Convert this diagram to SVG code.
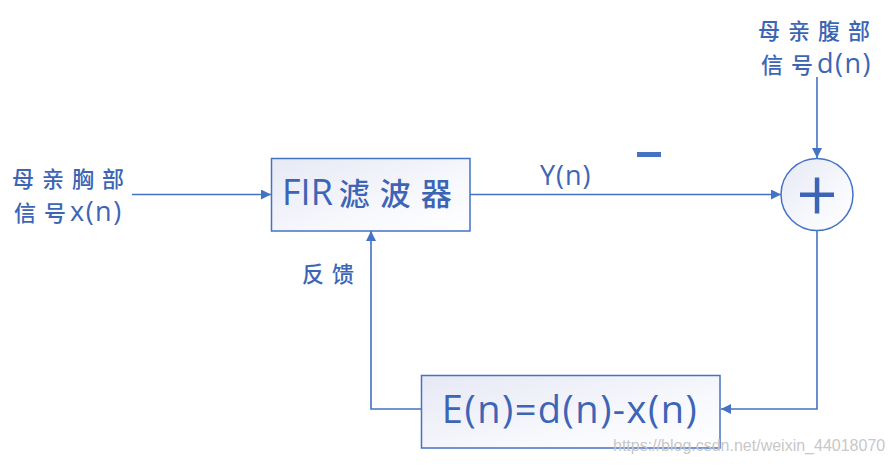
<svg xmlns="http://www.w3.org/2000/svg" width="894" height="465" viewBox="0 0 894 465">
  <style>
    .line { fill: none; stroke: #4472C4; stroke-width: 1.6; }
    .box { stroke: #4472C4; stroke-width: 1.5; fill: url(#boxFill); }
    .lbl { fill: #3D65B5; font-family: "Noto Sans CJK SC", "Noto Sans", sans-serif; font-size: 22px; font-weight: 500; letter-spacing: 8px; }
    .latin { font-family: "Open Sans", "Noto Sans", sans-serif; font-weight: 400; letter-spacing: 1.5px; }
    .big { fill: #3D65B5; font-family: "Open Sans", "Noto Sans CJK SC", sans-serif; }
    .mark { fill: #C8C8C8; font-family: "Liberation Sans", Arial, sans-serif; font-size: 16px; }
  </style>
  <defs>
    <linearGradient id="boxFill" x1="0" y1="0" x2="1" y2="1">
      <stop offset="0" stop-color="#E6E8F5"/>
      <stop offset="0.6" stop-color="#F7F8FC"/>
      <stop offset="1" stop-color="#FFFFFF"/>
    </linearGradient>
    <marker id="arrow" viewBox="0 0 10 10" refX="10" refY="5" markerWidth="10" markerHeight="10" markerUnits="userSpaceOnUse" orient="auto">
      <path d="M0,0 L10,5 L0,10 Z" fill="#4472C4"/>
    </marker>
  </defs>
  <rect width="894" height="465" fill="#FFFFFF"/>

  <g id="connectors">
    <line class="line" x1="132" y1="194.5" x2="271" y2="194.5" marker-end="url(#arrow)"/>
    <line class="line" x1="470" y1="194.5" x2="781" y2="194.5" marker-end="url(#arrow)"/>
    <line class="line" x1="817" y1="77" x2="817" y2="158" marker-end="url(#arrow)"/>
    <polyline class="line" points="817,230 817,409 721,409" marker-end="url(#arrow)"/>
    <polyline class="line" points="421,409 371,409 371,231" marker-end="url(#arrow)"/>
  </g>

  <g id="input-label">
    <text class="lbl" x="12" y="187">母亲胸部</text>
    <text class="lbl" x="14" y="221" letter-spacing="6">信号<tspan class="latin" font-size="27" dx="-4">x(n)</tspan></text>
  </g>

  <g id="fir-filter">
    <rect class="box" x="271.5" y="158.5" width="198.5" height="72.5"/>
    <text class="big" x="282" y="205" font-size="36">FIR<tspan font-family="Noto Sans CJK SC, sans-serif" font-weight="500" font-size="31" dx="6" letter-spacing="10">滤波器</tspan></text>
  </g>

  <g id="yn-label">
    <text class="big" x="540" y="185" font-size="27" letter-spacing="1">Y(n)</text>
    <rect x="637" y="152" width="24" height="5" fill="#4472C4"/>
  </g>

  <g id="summer">
    <circle cx="817" cy="194.5" r="36" class="box"/>
    <rect x="800" y="192.5" width="34" height="4.5" fill="#3D65B5"/>
    <rect x="814.8" y="177.5" width="4.5" height="36" fill="#3D65B5"/>
  </g>

  <g id="reference-label">
    <text class="lbl" x="758" y="39">母亲腹部</text>
    <text class="lbl" x="761" y="73" letter-spacing="6">信号<tspan class="latin" font-size="27" dx="-4">d(n)</tspan></text>
  </g>

  <g id="feedback-label">
    <text class="lbl" x="302" y="282" letter-spacing="12">反馈</text>
  </g>

  <g id="error-block">
    <rect class="box" x="421.5" y="375.5" width="298.5" height="72.5"/>
    <text class="big" x="570" y="423" font-size="38" letter-spacing="1.5" text-anchor="middle">E(n)=d(n)-x(n)</text>
  </g>

  <text class="mark" x="613" y="451">https://blog.csdn.net/weixin_44018070</text>
</svg>
